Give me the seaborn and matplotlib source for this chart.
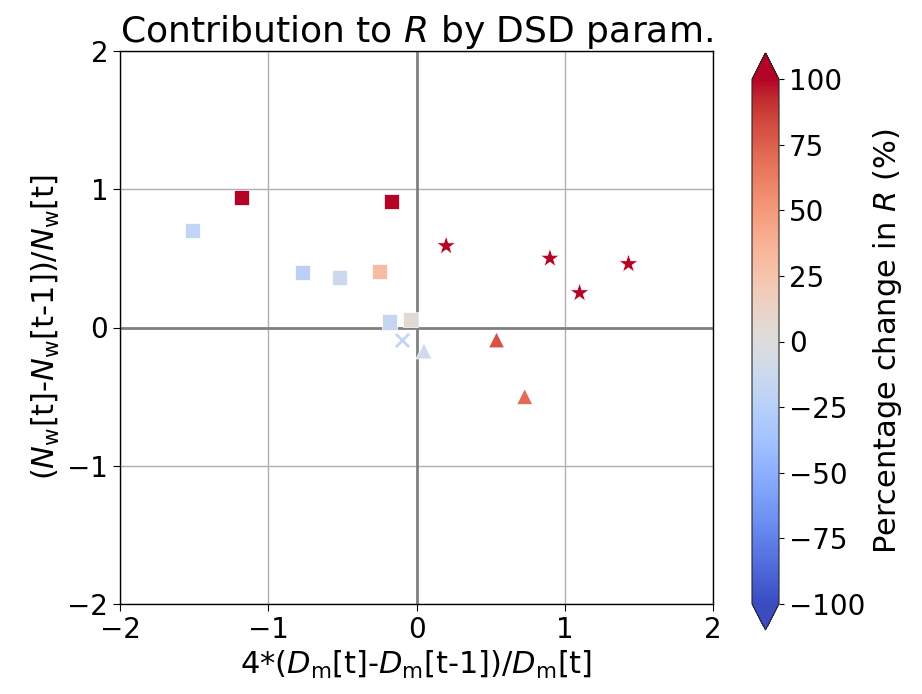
import matplotlib
matplotlib.use("Agg")
import matplotlib.pyplot as plt
import seaborn as sns
import numpy as np
import pandas as pd
from matplotlib.colors import Normalize
from matplotlib.cm import ScalarMappable

# Data
dm_change = [-1.18, -0.17, -1.51, -0.77, -0.52, -0.25, -0.18, -0.04,
             -0.10,
             0.05, 0.54, 0.73,
             0.20, 0.90, 1.10, 1.43]
nw_change = [0.94, 0.91, 0.70, 0.40, 0.36, 0.405, 0.04, 0.06,
             -0.09,
             -0.17, -0.09, -0.50,
             0.59, 0.50, 0.25, 0.46]
pct_change = [120, 120, -18, -24, -12, 30, -16, 5,
              -18,
              -10, 80, 70,
              120, 120, 120, 120]
group = ["sq"] * 8 + ["x"] + ["tri"] * 3 + ["star"] * 4

df = pd.DataFrame({"dm": dm_change, "nw": nw_change, "pct": pct_change, "grp": group})

sns.set_style("ticks")
plt.rcParams["font.family"] = ["DejaVu Sans"]
plt.rcParams["mathtext.default"] = "regular"
for k in ["text.color", "axes.labelcolor", "xtick.color", "ytick.color"]:
    plt.rcParams[k] = "black"

fig = plt.figure(figsize=(9.22, 6.94), dpi=100)
ax = fig.add_axes([120/922, (694-604)/694, (713-120)/922, (604-51)/694])
cax = fig.add_axes([752/922, (694-630)/694, 27/922, (630-53)/694])

norm = Normalize(vmin=-100, vmax=100)
cmap = plt.get_cmap("coolwarm")

ax.grid(True, color="#b0b0b0", linewidth=1)
ax.set_axisbelow(True)
ax.axhline(0, color="gray", linewidth=2, zorder=1)
ax.axvline(0, color="gray", linewidth=2, zorder=1)

styles = {"sq": ("s", 120), "x": ("x", 90), "tri": ("^", 130), "star": ("*", 210)}
for g, (mk, sz) in styles.items():
    sub = df[df["grp"] == g]
    if mk == "x":
        sns.scatterplot(data=sub, x="dm", y="nw", hue="pct", palette=cmap,
                        hue_norm=norm, marker=mk, s=sz, linewidth=2,
                        legend=False, ax=ax, zorder=3)
    else:
        sns.scatterplot(data=sub, x="dm", y="nw", hue="pct", palette=cmap,
                        hue_norm=norm, marker=mk, s=sz, edgecolor="white",
                        linewidth=0.5, legend=False, ax=ax, zorder=3)

ax.set_xlim(-2, 2)
ax.set_ylim(-2, 2)
ax.set_xticks([-2, -1, 0, 1, 2])
ax.set_yticks([-2, -1, 0, 1, 2])
ax.tick_params(labelsize=20, direction="out", length=5, colors="black")
for sp in ax.spines.values():
    sp.set_color("black")
    sp.set_linewidth(1)
ax.set_title("Contribution to $\\mathit{R}$ by DSD param.", fontsize=26)
ax.set_xlabel("4*($\\mathit{D}_\\mathrm{m}$[t]-$\\mathit{D}_\\mathrm{m}$[t-1])/$\\mathit{D}_\\mathrm{m}$[t]", fontsize=22)
ax.set_ylabel("($\\mathit{N}_\\mathrm{w}$[t]-$\\mathit{N}_\\mathrm{w}$[t-1])/$\\mathit{N}_\\mathrm{w}$[t]", fontsize=22)

sm = ScalarMappable(norm=norm, cmap=cmap)
cb = fig.colorbar(sm, cax=cax, extend="both")
cb.set_ticks([-100, -75, -50, -25, 0, 25, 50, 75, 100])
cb.ax.tick_params(labelsize=20, colors="black")
cb.set_label("Percentage change in $\\mathit{R}$ (%)", fontsize=22)

fig.savefig("out.png", dpi=100)
